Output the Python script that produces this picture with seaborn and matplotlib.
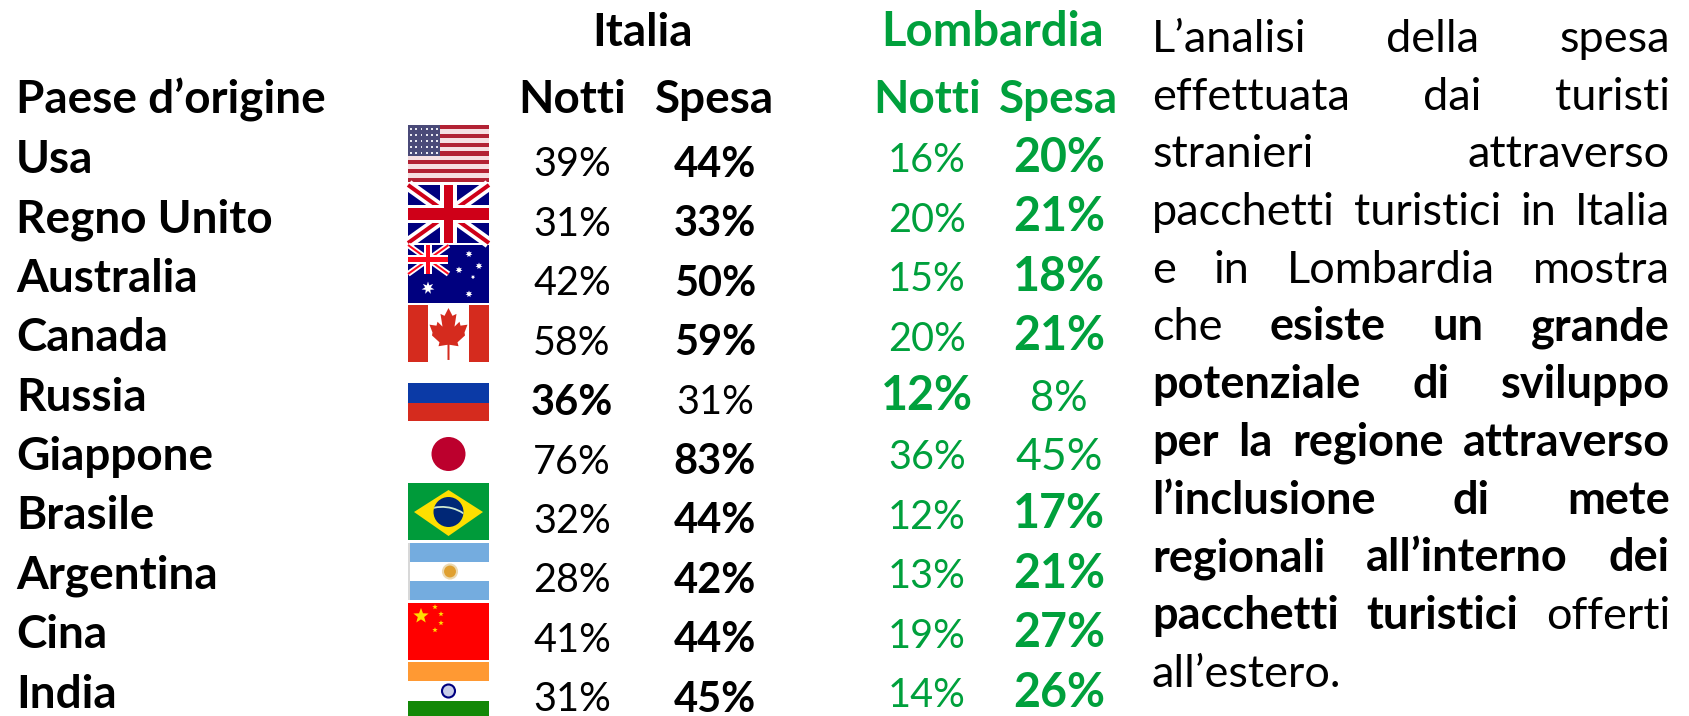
import numpy as np
import pandas as pd
import seaborn as sns
import matplotlib
matplotlib.use("Agg")
import matplotlib.pyplot as plt
from matplotlib.colors import ListedColormap
from matplotlib.patches import Rectangle, Polygon, Circle, Wedge

paesi = ["Usa", "Regno Unito", "Australia", "Canada", "Russia", "Giappone",
         "Brasile", "Argentina", "Cina", "India"]
italia_notti = [39, 31, 42, 58, 36, 76, 32, 28, 41, 31]
italia_spesa = [44, 33, 50, 59, 31, 83, 44, 42, 44, 45]
lomb_notti = [16, 20, 15, 20, 12, 36, 12, 13, 19, 14]
lomb_spesa = [20, 21, 18, 21, 8, 45, 17, 21, 27, 26]
# which cells are bold
italia_bold = [[0, 1]] * 4 + [[1, 0]] + [[0, 1]] * 5
lomb_bold = [[0, 1]] * 4 + [[1, 0]] + [[0, 0]] + [[0, 1]] * 4

# (text, bold) per line of the right hand paragraph
testo = [
    [("L’analisi della spesa", 0)],
    [("effettuata dai turisti", 0)],
    [("stranieri attraverso", 0)],
    [("pacchetti turistici in Italia", 0)],
    [("e in Lombardia mostra", 0)],
    [("che", 0), ("esiste un grande", 1)],
    [("potenziale di sviluppo", 1)],
    [("per la regione attraverso", 1)],
    [("l’inclusione di mete", 1)],
    [("regionali all’interno dei", 1)],
    [("pacchetti turistici", 1), ("offerti", 0)],
    [("all’estero.", 0)],
]

W, H = 1689, 716
VERDE = "#00a03c"
FS = 33

sns.set_theme(style="white")
plt.rcParams["font.family"] = ["Lato", "DejaVu Sans"]

fig = plt.figure(figsize=(W / 100, H / 100), dpi=100)
bg = fig.add_axes([0, 0, 1, 1])
bg.set_xlim(0, W)
bg.set_ylim(H, 0)
bg.axis("off")


def tabella(notti, spesa, bold, x0, colw, ymid, colore, sizes, drop=0.0):
    # one heatmap per block, 10 rows 59.4px apart
    top = ymid - 29.7
    w, h = colw * 2, 594
    ax = fig.add_axes([x0 / W, 1 - (top + h) / H, w / W, h / H])
    df = pd.DataFrame({"Notti": notti, "Spesa": spesa}, index=paesi)
    sns.heatmap(df, ax=ax, cmap=ListedColormap(["white"]), cbar=False,
                xticklabels=False, yticklabels=False,
                annot=df.map(lambda v: f"{v}%"), fmt="")
    ax.set_xlabel("")
    ax.set_ylabel("")
    ax.patch.set_alpha(0)
    flat = np.array(bold).ravel()
    for t, b in zip(ax.texts, flat):
        t.set_color(colore)
        t.set_fontweight("bold" if b else "normal")
        t.set_fontsize(sizes[int(b)])
        if not b:
            t.set_y(t.get_position()[1] + drop)
    return ax


ax_it = tabella(italia_notti, italia_spesa, italia_bold, 500.5, 143, 165, "black", (28.5, 30))
ax_lo = tabella(lomb_notti, lomb_spesa, lomb_bold, 861, 132, 158, VERDE, (28.5, 33.5), drop=0.05)
# these two are drawn larger in the reference
ax_lo.texts[11].set_fontsize(32)
ax_lo.texts[9].set_fontsize(30)

# headings
bg.text(643, 46, "Italia", fontsize=FS, fontweight="bold", ha="center", va="baseline", color="black")
bg.text(993, 46, "Lombardia", fontsize=FS + 1, fontweight="bold", ha="center", va="baseline", color=VERDE)
bg.text(16, 113, "Paese d’origine", fontsize=FS, fontweight="bold", va="baseline", color="black")
bg.text(572, 113, "Notti", fontsize=FS, fontweight="bold", ha="center", va="baseline", color="black")
bg.text(715, 113, "Spesa", fontsize=FS, fontweight="bold", ha="center", va="baseline", color="black")
bg.text(927, 113, "Notti", fontsize=FS, fontweight="bold", ha="center", va="baseline", color=VERDE)
bg.text(1059, 113, "Spesa", fontsize=FS, fontweight="bold", ha="center", va="baseline", color=VERDE)

for i, p in enumerate(paesi):
    bg.text(16, 173 + 59.4 * i, p, fontsize=FS, fontweight="bold", va="baseline", color="black")


# flags
def rect(x, y, w, h, c, **kw):
    bg.add_patch(Rectangle((x, y), w, h, fc=c, ec="none", **kw))


def stella(cx, cy, r, c, n=5, ratio=0.42, rot=-90):
    a = np.deg2rad(rot) + np.arange(2 * n) * np.pi / n
    rr = np.where(np.arange(2 * n) % 2 == 0, r, r * ratio)
    bg.add_patch(Polygon(np.c_[cx + rr * np.cos(a), cy + rr * np.sin(a)], fc=c, ec="none", zorder=4))


def union_jack(x, y, w, h, blu="#00007f", red="#cf0018"):
    clip = Rectangle((x, y), w, h, transform=bg.transData)
    rect(x, y, w, h, blu, zorder=1.5)
    for a, b, c, d in [(x, y, x + w, y + h), (x, y + h, x + w, y)]:
        bg.plot([a, c], [b, d], color="white", lw=h * 0.14, solid_capstyle="butt", clip_path=clip, zorder=2)
        bg.plot([a, c], [b, d], color=red, lw=h * 0.05, solid_capstyle="butt", clip_path=clip, zorder=2)
    rect(x + w * 0.40, y, w * 0.20, h, "white", zorder=3)
    rect(x, y + h * 0.34, w, h * 0.32, "white", zorder=3)
    rect(x + w * 0.445, y, w * 0.11, h, red, zorder=3)
    rect(x, y + h * 0.40, w, h * 0.20, red, zorder=3)


fx, fw = 408, 81
# usa
y, h = 125, 57
for k in range(13):
    rect(fx, y + k * h / 13, fw, h / 13 + 0.3, "#b22234" if k % 2 == 0 else "#f6dfe2")
rect(fx, y, fw * 0.4, h * 0.54, "#4a4a78")
for r in range(5):
    for c in range(6):
        rect(fx + 2 + c * 5.3, y + 3 + r * 6, 1.8, 1.8, "#e8e8f0")
# uk
union_jack(fx, 185, fw, 58)
# australia
rect(fx, 245, fw, 58, "#00007f")
union_jack(fx, 245, fw * 0.5, 29, red="#ff0a1e")
stella(fx + 20, 288, 6.5, "white", n=7, ratio=0.45)
for sx, sy, sr in [(61, 9, 3.5), (71, 21, 3.5), (51, 25, 3.5), (65, 32, 2.2), (61, 49, 3.5)]:
    stella(fx + sx, 245 + sy, sr, "white", n=7, ratio=0.5)
# canada
rect(fx, 305, fw, 57, "white")
rect(fx, 305, 20, 57, "#d52b1e")
rect(fx + 61, 305, 20, 57, "#d52b1e")
leaf = [(0, -26), (4, -18), (8, -20), (6, -7), (11, -12), (12, -8), (19, -9), (16, -1),
        (16.5, 2), (9, 9), (10, 13), (1, 11.5), (1, 27), (-1, 27), (-1, 11.5), (-10, 13),
        (-9, 9), (-16.5, 2), (-16, -1), (-19, -9), (-12, -8), (-11, -12), (-6, -7),
        (-8, -20), (-4, -18)]
bg.add_patch(Polygon(np.array(leaf) * [1, 0.98] + [fx + 40.5, 333.5], fc="#d52b1e", ec="none"))
# russia
rect(fx, 383, fw, 20, "#0b3aa6")
rect(fx, 403, fw, 18, "#d52b1e")
# giappone
bg.add_patch(Circle((448.5, 454), 17, fc="#bc002d", ec="none"))
# brasile
rect(fx, 483, fw, 57, "#009b3a")
bg.add_patch(Polygon([(fx + 6, 512), (fx + 40.5, 490), (fx + 75, 512), (fx + 40.5, 536)], fc="#fedf00", ec="none"))
disco = Circle((fx + 40.5, 512), 15, fc="#002776", ec="none", zorder=2)
bg.add_patch(disco)
banda = Wedge((fx + 34, 546), 40, 250, 320, width=1.8, fc="#cfe8d0", ec="none", zorder=3)
bg.add_patch(banda)
banda.set_clip_path(disco)
# argentina
rect(fx, 543, 2, 57, "#d8d8d8")
rect(fx + 2, 543, fw - 2, 19, "#74acdf")
rect(fx + 2, 562, fw - 2, 19, "white")
rect(fx + 2, 581, fw - 2, 19, "#74acdf")
bg.add_patch(Circle((fx + 42, 571.5), 7, fc="#e0a030", ec="#ecd9b0", lw=1.5))
# cina
rect(fx, 603, fw, 57, "#ff0000")
stella(fx + 13, 616, 8, "#ffde00")
for sx, sy in [(27, 607), (33, 614), (33, 623), (27, 630)]:
    stella(fx + sx, sy, 2.8, "#ffde00")
# india
rect(fx, 662, fw, 19, "#ff9933")
rect(fx, 701, fw, 15, "#138808")
bg.add_patch(Circle((fx + 40.5, 691), 6.5, fc="#c8cce8", ec="#000080", lw=1.5))

# justified paragraph, placed word by word
fig.canvas.draw()
rend = fig.canvas.get_renderer()
x_l, x_r = 1152, 1670
for i, riga in enumerate(testo):
    base = 52 + 57.7 * i
    parole = [(w, b) for run, b in riga for w in run.split()]
    arts = [bg.text(0, base, w, fontsize=FS - 0.5, fontweight="bold" if b else "normal",
                    va="baseline", color="black") for w, b in parole]
    larg = [a.get_window_extent(rend).width for a in arts]
    if i == len(testo) - 1:
        gap = 0
    else:
        gap = (x_r - x_l - sum(larg)) / (len(arts) - 1)
    x = x_l
    for a, l in zip(arts, larg):
        a.set_x(x)
        x += l + gap

fig.savefig("out.png", dpi=100)
